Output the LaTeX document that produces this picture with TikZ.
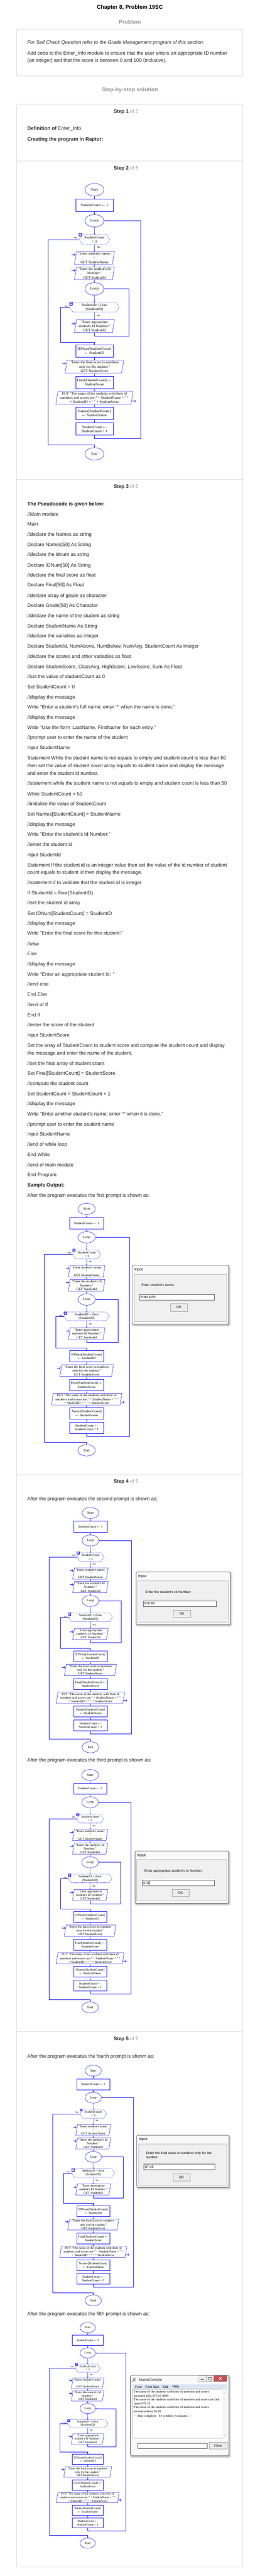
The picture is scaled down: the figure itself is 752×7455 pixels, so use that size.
\documentclass[tikz,border=0pt]{standalone}
\usepackage{fontspec}
\setmainfont{Liberation Sans}[Ligatures=TeXOff]
\newfontfamily\rapfont{Liberation Serif}[Ligatures=TeXOff]
\usetikzlibrary{shapes.geometric, shapes.symbols, arrows.meta}

\definecolor{rapblue}{RGB}{24,24,240}
\definecolor{headgray}{RGB}{153,153,153}
\definecolor{framegray}{RGB}{221,221,221}
\definecolor{menublue}{RGB}{220,229,243}
\definecolor{closered}{RGB}{199,80,80}

\tikzset{
  pagetitle/.style={font=\bfseries\fontsize{16}{19}\selectfont, inner sep=0},
  grayhead/.style={font=\bfseries\fontsize{16}{19}\selectfont, text=headgray, inner sep=0},
  stephead/.style={anchor=west, font=\bfseries\fontsize{14.5}{17}\selectfont, text=black!85, inner sep=0},
  subhead/.style={anchor=west, font=\bfseries\fontsize{14.5}{17}\selectfont, text=black!85, inner sep=0, text height=10.4pt, text depth=0pt},
  code/.style={anchor=west, font=\fontsize{14.3}{16}\selectfont, text=black!85, inner sep=0, text height=10.2pt, text depth=0pt},
  panelframe/.style={draw=framegray, line width=1pt},
  % raptor symbols
  rnode/.style={draw=rapblue, line width=0.8pt, align=center, inner sep=1.5pt, font=\rapfont\fontsize{10.6}{12.2}\selectfont},
  rterm/.style={rnode, ellipse, minimum width=55pt, minimum height=36pt, font=\rapfont\fontsize{11}{12}\selectfont},
  rbox/.style={rnode, rectangle, minimum width=109pt, minimum height=36pt},
  rio/.style={rnode, trapezium, trapezium left angle=81, trapezium right angle=99, trapezium stretches=true, minimum height=37pt},
  rdec/.style={rnode, signal, signal to=west and east, signal pointer angle=110, minimum height=28pt, dash pattern=on 1.2pt off 1.2pt},
  rlabel/.style={font=\fontsize{7}{8}\selectfont, inner sep=0},
  ricon/.style={draw=rapblue, line width=0.6pt, minimum size=8pt, inner sep=0,
    path picture={\draw[rapblue, line width=0.6pt] (path picture bounding box.west) -- (path picture bounding box.east);}},
  rline/.style={draw=rapblue, line width=0.8pt},
  rflow/.style={rline, -{Stealth[length=3pt, width=3.5pt]}},
  rarrow/.style={rline, -{Straight Barb[length=3.5pt, width=7pt]}},
  % dialogs
  dlgframe/.style={draw=black!70, line width=1pt, fill=gray!5, rounded corners=4pt},
  dlgpanel/.style={draw=gray!55, fill=gray!12, line width=0.8pt},
  dlgfield/.style={draw=gray!70!black, fill=white, line width=0.6pt},
  dlgtitle/.style={anchor=west, font=\fontsize{11}{13}\selectfont, inner sep=0},
  dlgtext/.style={anchor=west, align=left, inner sep=0, font=\fontsize{9.8}{11}\selectfont},
  dlgbutton/.style={draw=gray!70, fill=gray!15, minimum width=50pt, minimum height=21pt, inner sep=0, font=\fontsize{10}{12}\selectfont},
  menuitem/.style={anchor=west, inner sep=0, font=\fontsize{9.5}{11}\selectfont},
  console/.style={anchor=west, inner sep=0, text height=6.3pt, text depth=0pt, font=\rapfont\fontsize{9.35}{10}\selectfont}
}

% one Raptor chart, origin at the centre of Start
\newcommand{\raptorchart}[1]{%
  \node[rterm] (#1-start) at (0,0) {Start};
  \node[rbox] (#1-init) at (0,45) {StudentCount $\leftarrow$ 1};
  \node[rterm] (#1-loop1) at (0,90) {Loop};
  \node[rdec, minimum width=89pt] (#1-test1) at (0,144) {StudentCount\\> 3};
  \node[rio, minimum width=116pt] (#1-name) at (0,197.5) {"Enter student's name;\\"\\GET StudentName};
  \node[rio, minimum width=116pt] (#1-id) at (0,242) {"Enter the student's Id\\Number:"\\GET StudentId};
  \node[rterm] (#1-loop2) at (0,287) {Loop};
  \node[rdec, minimum width=144pt] (#1-test2) at (0,340.5) {StudentID = floor\\(StudentID)};
  \node[rio, minimum width=116pt] (#1-reid) at (0,395) {"Enter appropriate\\student's Id Number:"\\GET StudentId};
  \node[rbox] (#1-idnum) at (0,467) {IDNum[StudentCount]\\$\leftarrow$ StudentID};
  \node[rio, minimum width=170pt] (#1-score) at (0,512) {"Enter the final score in numbers\\only for the student:"\\GET StudentScore};
  \node[rbox] (#1-final) at (0,558) {Final[StudentCount] $\leftarrow$\\StudentScore};
  \node[rio, minimum width=224pt] (#1-put) at (0,602.5) {PUT "The name of the students with their id\\numbers and scores are:" + StudentName + " "\\+ StudentID + " " + StudentScore};
  \node[rbox] (#1-names) at (0,647) {Names[StudentCount]\\$\leftarrow$ StudentName};
  \node[rbox] (#1-count) at (0,692.5) {StudentCount $\leftarrow$\\StudentCount + 1};
  \node[rterm] (#1-end) at (0,764.5) {End};
  % branch labels
  \node[rlabel] (#1-yes1) at (-54.5,139) {Yes};
  \node[rlabel] (#1-no1) at (12.5,167) {No};
  \node[rlabel] (#1-yes2) at (-81.5,338) {Yes};
  \node[rlabel] (#1-no2) at (12.5,365) {No};
  \node[ricon] (#1-icon1) at (-41,130.5) {};
  \node[ricon] (#1-icon2) at (-68,329.5) {};
  % loop corners
  \coordinate (#1-out) at (134.5,720);
  \coordinate (#1-in) at (99.5,423);
  \coordinate (#1-exit1) at (-134.5,738);
  \coordinate (#1-exit2) at (-98.5,441);
  \coordinate (#1-a1) at (-66,188);
  \coordinate (#1-a2) at (-66,233.5);
  \coordinate (#1-a3) at (-66,387);
  \coordinate (#1-a4) at (-93.5,503);
  \coordinate (#1-a5) at (120,612);
  % flow
  \draw[rflow] (#1-start) -- (#1-init);
  \draw[rflow] (#1-init) -- (#1-loop1);
  \draw[rflow] (#1-loop1) -- (#1-test1);
  \draw[rflow] (#1-test1) -- (#1-name);
  \draw[rflow] (#1-name) -- (#1-id);
  \draw[rflow] (#1-id) -- (#1-loop2);
  \draw[rflow] (#1-loop2) -- (#1-test2);
  \draw[rflow] (#1-test2) -- (#1-reid);
  \draw[rflow] (#1-reid) |- (#1-in) |- (#1-loop2);
  \draw[rflow] (#1-test2) -| (#1-exit2) -| (#1-idnum);
  \draw[rflow] (#1-idnum) -- (#1-score);
  \draw[rflow] (#1-score) -- (#1-final);
  \draw[rflow] (#1-final) -- (#1-put);
  \draw[rflow] (#1-put) -- (#1-names);
  \draw[rflow] (#1-names) -- (#1-count);
  \draw[rflow] (#1-count) |- (#1-out) |- (#1-loop1);
  \draw[rflow] (#1-test1) -| (#1-exit1) -| (#1-end);
  % input and output marks
  \draw[rarrow] (#1-a1) -- (#1-a1 -| #1-name.west);
  \draw[rarrow] (#1-a2) -- (#1-a2 -| #1-id.west);
  \draw[rarrow] (#1-a3) -- (#1-a3 -| #1-reid.west);
  \draw[rarrow] (#1-a4) -- (#1-a4 -| #1-score.west);
  \draw[rarrow] (#1-put.east |- #1-a5) -- (#1-a5);
}

% Raptor input window: name, x, y, width, height, prompt, value
\newcommand{\inputbox}[7]{%
  \begin{scope}[shift={(#2,#3)}]
    \fill[black!10, rounded corners=5pt] (-1,0) rectangle (#4+6,#5+7);
    \fill[black!25, rounded corners=4pt] (1,2) rectangle (#4+3,#5+4);
    \draw[dlgframe] (0,0) rectangle (#4,#5);
    \draw[dlgpanel] (5,25) rectangle (#4-6,#5-7);
    \node[dlgtitle] (#1-title) at (6,13) {Input};
    \node[dlgtext] (#1-prompt) at (27,58) {#6};
    \draw[dlgfield] (21,84) rectangle (#4-41,100);
    \node[dlgtext] (#1-value) at (24,92) {#7};
    \node[dlgbutton] (#1-ok) at (#4/2-4,121.5) {OK};
  \end{scope}}

\begin{document}
\begin{tikzpicture}[x=1pt, y=-1pt]
% Page
\fill[white] (0,0) rectangle (752,7455);
\useasboundingbox (0,0) rectangle (752,7455);
\node[pagetitle] (title) at (376,22) {Chapter 8, Problem 19SC};
\node[grayhead] (problem) at (376,63) {Problem};
\draw[panelframe] (48,84) rectangle (703,219);
\node[code, font=\itshape\fontsize{14.3}{16}\selectfont] (q1) at (79,123) {For Self Check Question refer to the Grade Management program of this section.};
\node[code] (q2) at (79,153) {Add code to the Enter\_Info module to ensure that the user enters an appropriate ID number};
\node[code] (q3) at (79,175) {(an integer) and that the score is between 0 and 100 (inclusive).};
\node[grayhead] (solution) at (376,260) {Step-by-step solution};
% Steps
\draw[panelframe] (48,302) rectangle (703,7428);
\draw[panelframe] (48,466) -- (703,466);
\draw[panelframe] (48,1387) -- (703,1387);
\draw[panelframe] (48,4267) -- (703,4267);
\draw[panelframe] (48,5880) -- (703,5880);
\node[stephead] (step1) at (329,323) {Step 1 \textcolor{headgray}{\mdseries of 5}};
\node[stephead] (step2) at (329,487) {Step 2 \textcolor{headgray}{\mdseries of 5}};
\node[stephead] (step3) at (329,1409) {Step 3 \textcolor{headgray}{\mdseries of 5}};
\node[stephead] (step4) at (329,4288) {Step 4 \textcolor{headgray}{\mdseries of 5}};
\node[stephead] (step5) at (329,5902) {Step 5 \textcolor{headgray}{\mdseries of 5}};
% Step 1
\node[subhead] (defn) at (79,371) {Definition of \mdseries Enter\_Info};
\node[subhead] (creating) at (79,402) {Creating the program in Raptor:};
% Step 2
\begin{scope}[shift={(273.5,549)}, transform shape]
  \raptorchart{main}
\end{scope}
% Step 3
\node[subhead] (pseudo) at (79,1458) {The Pseudocode is given below:};
\node[code] (c01) at (79,1488) {//Main module};
\node[code] (c02) at (79,1517) {Main};
\node[code] (c03) at (79,1546) {//declare the Names as string};
\node[code] (c04) at (79,1576) {Declare Names[50] As String};
\node[code] (c05) at (79,1605) {//declare the idnum as string};
\node[code] (c06) at (79,1635) {Declare IDNum[50] As String};
\node[code] (c07) at (79,1664) {//declare the final score as float};
\node[code] (c08) at (79,1693) {Declare Final[50] As Float};
\node[code] (c09) at (79,1723) {//declare array of grade as character};
\node[code] (c10) at (79,1752) {Declare Grade[50] As Character};
\node[code] (c11) at (79,1782) {//declare the name of the student as string};
\node[code] (c12) at (79,1811) {Declare StudentName As String};
\node[code] (c13) at (79,1840) {//declare the variables as integer};
\node[code] (c14) at (79,1870) {Declare StudentId, NumAbove, NumBelow, NumAvg, StudentCount As Integer};
\node[code] (c15) at (79,1899) {//declare the scores and other variables as float};
\node[code] (c16) at (79,1929) {Declare StudentScore, ClassAvg, HighScore, LowScore, Sum As Float};
\node[code] (c17) at (79,1958) {//set the value of studentCount as 0};
\node[code] (c18) at (79,1987) {Set StudentCount = 0};
\node[code] (c19) at (79,2017) {//display the message};
\node[code] (c20) at (79,2046) {Write "Enter a student's full name; enter '*' when the name is done."};
\node[code] (c21) at (79,2076) {//display the message};
\node[code] (c22) at (79,2105) {Write "Use the form 'LastName, FirstName' for each entry."};
\node[code] (c23) at (79,2134) {//prompt user to enter the name of the student};
\node[code] (c24) at (79,2164) {Input StudentName};
\node[code] (c25) at (79,2193) {Statement While the student name is not equals to empty and student count is less than 50};
\node[code] (c26) at (79,2216) {then set the value of student count array equals to student name and display the message};
\node[code] (c27) at (79,2238) {and enter the student id number.};
\node[code] (c28) at (79,2267) {//statement while the student name is not equals to empty and student count is less than 50};
\node[code] (c29) at (79,2297) {While StudentCount < 50};
\node[code] (c30) at (79,2326) {//initialize the value of StudentCount};
\node[code] (c31) at (79,2356) {Set Names[StudentCount] = StudentName};
\node[code] (c32) at (79,2385) {//display the message};
\node[code] (c33) at (79,2414) {Write "Enter the student's Id Number:"};
\node[code] (c34) at (79,2444) {//enter the student id};
\node[code] (c35) at (79,2473) {Input StudentId};
\node[code] (c36) at (79,2503) {Statement If the student id is an integer value then set the value of the id number of student};
\node[code] (c37) at (79,2525) {count equals to student id then display the message.};
\node[code] (c38) at (79,2554) {//statement if to validate that the student id is integer};
\node[code] (c39) at (79,2584) {If StudentId = floor(StudentID)};
\node[code] (c40) at (79,2613) {//set the student id array};
\node[code] (c41) at (79,2643) {Set IDNum[StudentCount] = StudentID};
\node[code] (c42) at (79,2672) {//display the message};
\node[code] (c43) at (79,2701) {Write "Enter the final score for this student:"};
\node[code] (c44) at (79,2731) {//else};
\node[code] (c45) at (79,2760) {Else};
\node[code] (c46) at (79,2790) {//display the message};
\node[code] (c47) at (79,2819) {Write "Enter an appropriate student id: "};
\node[code] (c48) at (79,2848) {//end else};
\node[code] (c49) at (79,2878) {End Else};
\node[code] (c50) at (79,2907) {//end of If};
\node[code] (c51) at (79,2937) {End If};
\node[code] (c52) at (79,2966) {//enter the score of the student};
\node[code] (c53) at (79,2995) {Input StudentScore};
\node[code] (c54) at (79,3025) {Set the array of StudentCount to student score and compute the student count and display};
\node[code] (c55) at (79,3047) {the message and enter the name of the student.};
\node[code] (c56) at (79,3077) {//set the final array of student count};
\node[code] (c57) at (79,3106) {Set Final[StudentCount] = StudentScore};
\node[code] (c58) at (79,3135) {//compute the student count};
\node[code] (c59) at (79,3165) {Set StudentCount = StudentCount + 1};
\node[code] (c60) at (79,3194) {//display the message};
\node[code] (c61) at (79,3224) {Write "Enter another student's name; enter '*' when it is done."};
\node[code] (c62) at (79,3253) {//prompt user to enter the student name};
\node[code] (c63) at (79,3282) {Input StudentName};
\node[code] (c64) at (79,3312) {//end of while loop};
\node[code] (c65) at (79,3341) {End While};
\node[code] (c66) at (79,3371) {//end of main module};
\node[code] (c67) at (79,3400) {End Program};
\node[subhead] (sample) at (79,3429) {Sample Output:};
\node[code] (run1) at (79,3459) {After the program executes the first prompt is shown as:};
\begin{scope}[shift={(251,3498.5)}, scale=0.914, transform shape]
  \raptorchart{s1}
\end{scope}
\inputbox{dlg1}{383}{3662}{279}{170}{Enter student's name;}{mark john}
% Step 4
\node[code] (run2) at (79,4337) {After the program executes the second prompt is shown as:};
\begin{scope}[shift={(262,4378.5)}, scale=0.887, transform shape]
  \raptorchart{s2}
\end{scope}
\inputbox{dlg2}{394}{4549}{273}{152}{Enter the student's Id Number:}{678.89}
\node[code] (run3) at (79,5094) {After the program executes the third prompt is shown as:};
\begin{scope}[shift={(261,5136.8)}, scale=0.88, transform shape]
  \raptorchart{s3}
\end{scope}
\inputbox{dlg3}{391}{5357}{271}{151}{Enter appropriate student's Id Number:}{675\rule[-1pt]{0.6pt}{10pt}}
% Step 5
\node[code] (run4) at (79,5951) {After the program executes the fourth prompt is shown as:};
\begin{scope}[shift={(270,5992.5)}, scale=0.87, transform shape]
  \raptorchart{s4}
\end{scope}
\inputbox{dlg4}{396}{6179}{267}{151}{Enter the final score in numbers only for the\\student:}{67.45}
\node[code] (run5) at (79,6696) {After the program executes the fifth prompt is shown as:};
\begin{scope}[shift={(254,6736)}, scale=0.816, transform shape]
  \raptorchart{s5}
\end{scope}
% MasterConsole window
\fill[black!10, rounded corners=5pt] (377,6874) rectangle (669,7114);
\fill[black!25, rounded corners=4pt] (379,6876) rectangle (666,7111);
\draw[dlgframe] (378,6874) rectangle (663,7107);
\draw[line width=0.9pt] (384,6893) -- (388,6886) -- (393,6883);
\draw[line width=0.7pt] (388,6886) -- (386,6882);
\draw[line width=0.7pt] (389,6887) -- (392,6891);
\node[dlgtitle, font=\fontsize{10}{12}\selectfont] (mc-title) at (402,6887) {MasterConsole};
\draw[draw=gray!60!black, fill=gray!15, rounded corners=1.5pt] (574,6875) rectangle (598,6892);
\draw[draw=gray!60!black, fill=gray!15, rounded corners=1.5pt] (598,6875) rectangle (619,6892);
\draw[draw=gray!60!black, fill=closered, rounded corners=1.5pt] (619,6875) rectangle (657,6892);
\draw[line width=1pt, black!70] (582,6886) -- (590,6886);
\draw[line width=0.8pt, black!70] (604.5,6880.5) rectangle (612.5,6887.5);
\draw[line width=1.4pt, white] (634.5,6880) -- (641.5,6887) (634.5,6887) -- (641.5,6880);
\fill[menublue] (384,6901) rectangle (657,6914);
\node[menuitem] (mc-font) at (391,6907.5) {Font};
\node[menuitem] (mc-size) at (421,6907.5) {Font Size};
\node[menuitem] (mc-edit) at (471,6907.5) {Edit};
\node[menuitem] (mc-help) at (499,6907.5) {Help};
\draw[draw=gray!50, fill=white] (384,6914) rectangle (644,7055);
\fill[gray!8] (644,6914) rectangle (657,7055);
\fill[gray!60] (648.5,6924) -- (652.5,6924) -- (650.5,6921.5) -- cycle;
\fill[gray!60] (648.5,7046) -- (652.5,7046) -- (650.5,7048.5) -- cycle;
\node[console] (mc1) at (387,6921.7) {The name of the students with their id numbers and scores};
\node[console] (mc2) at (387,6933) {are:mark john 675 67.4500};
\node[console] (mc3) at (387,6944.3) {The name of the students with their id numbers and scores are:lark};
\node[console] (mc4) at (387,6955.7) {fance 678 25};
\node[console] (mc5) at (387,6967) {The name of the students with their id numbers and scores};
\node[console] (mc6) at (387,6978.3) {are:manu hatra 56 10};
\node[console] (mc7) at (387,6991.7) {----Run complete.~ 44 symbols evaluated.----};
\draw[dlgfield] (398,7070) rectangle (599,7085);
\node[dlgbutton, minimum width=51pt, minimum height=19pt] (mc-clear) at (631.5,7077.5) {Clear};
\end{tikzpicture}
\end{document}
